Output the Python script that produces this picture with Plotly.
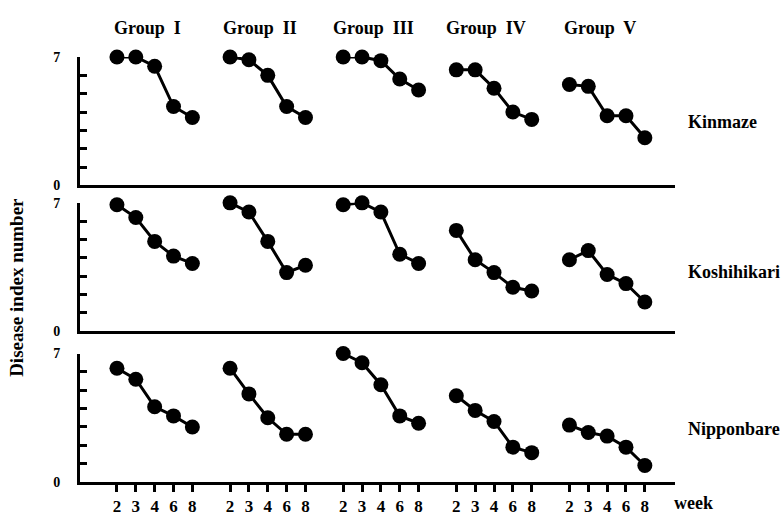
import plotly.graph_objects as go
from plotly.subplots import make_subplots

# ---- data ----
weeks = ["2", "3", "4", "6", "8"]
groups = ["Group  I", "Group  II", "Group  III", "Group  IV", "Group  V"]
varieties = ["Kinmaze", "Koshihikari", "Nipponbare"]

kinmaze = [
    [7.0, 7.0, 6.5, 4.3, 3.7],
    [7.0, 6.85, 6.0, 4.3, 3.7],
    [7.0, 7.0, 6.8, 5.8, 5.2],
    [6.3, 6.3, 5.3, 4.0, 3.6],
    [5.5, 5.4, 3.8, 3.8, 2.6],
]
koshihikari = [
    [6.9, 6.2, 4.9, 4.1, 3.7],
    [7.0, 6.5, 4.9, 3.2, 3.6],
    [6.9, 7.0, 6.5, 4.2, 3.7],
    [5.5, 3.9, 3.2, 2.4, 2.2],
    [3.9, 4.4, 3.1, 2.6, 1.6],
]
nipponbare = [
    [6.2, 5.6, 4.1, 3.6, 3.0],
    [6.2, 4.8, 3.5, 2.6, 2.6],
    [7.0, 6.5, 5.3, 3.6, 3.2],
    [4.7, 3.9, 3.3, 1.9, 1.6],
    [3.1, 2.7, 2.5, 1.9, 0.9],
]
y_ticks = [0, 1, 2, 3, 4, 5, 6, 7]
y_ticktext = ["0", "", "", "", "", "", "", "7"]

panels = [kinmaze, koshihikari, nipponbare]

# position of each week within a group: group g, week i -> g*6 + i
STEP = 6
def pos(g, i):
    return g * STEP + i

SERIF = "Liberation Serif"

fig = make_subplots(rows=3, cols=1, shared_xaxes=True, vertical_spacing=0.04)

for r, data in enumerate(panels):
    for g, vals in enumerate(data):
        fig.add_trace(
            go.Scatter(
                x=[pos(g, i) for i in range(len(weeks))],
                y=vals,
                mode="lines+markers",
                line=dict(color="black", width=3),
                marker=dict(color="black", size=15),
                cliponaxis=False,
                showlegend=False,
                hoverinfo="x+y",
            ),
            row=r + 1, col=1,
        )

tickvals = [pos(g, i) for g in range(len(groups)) for i in range(len(weeks))]
ticktext = [w for g in range(len(groups)) for w in weeks]

x_range = [-1.96, 29.6]
domains = [[0.6977, 1.0], [0.3545, 0.6568], [0.0, 0.3023]]

for r in range(3):
    fig.update_yaxes(
        row=r + 1, col=1,
        domain=domains[r],
        range=[0, 7],
        showgrid=False, zeroline=False,
        showline=True, linecolor="black", linewidth=3,
        ticks="inside", ticklen=7, tickwidth=3, tickcolor="black",
        tickvals=y_ticks, ticktext=y_ticktext,
        tickfont=dict(family=SERIF, size=14, color="black", weight="bold"),
        ticklabelstandoff=14,
    )
    last = (r == 2)
    fig.update_xaxes(
        row=r + 1, col=1,
        range=x_range,
        showgrid=False, zeroline=False,
        showline=True, linecolor="black", linewidth=3,
        ticks="outside" if last else "",
        ticklen=7, tickwidth=3, tickcolor="black",
        tickvals=tickvals, ticktext=ticktext if last else [""] * len(tickvals),
        showticklabels=last,
        tickfont=dict(family=SERIF, size=17, color="black", weight="bold"),
    )

annotations = []
# group titles
for g, name in enumerate(groups):
    annotations.append(dict(
        x=pos(g, 2) - 0.4, y=1.068, xref="x3", yref="paper",
        text="<b>" + name + "</b>", showarrow=False,
        font=dict(family=SERIF, size=18, color="black"),
        xanchor="center", yanchor="middle",
    ))
# variety labels
for name, yy in zip(varieties, [0.848, 0.493, 0.125]):
    annotations.append(dict(
        x=1.018, y=yy, xref="paper", yref="paper",
        text="<b>" + name + "</b>", showarrow=False,
        font=dict(family=SERIF, size=18, color="black"),
        xanchor="left", yanchor="middle",
    ))
# y-axis title
annotations.append(dict(
    x=-0.106, y=0.459, xref="paper", yref="paper",
    text="<b>Disease index number</b>", showarrow=False, textangle=-90,
    font=dict(family=SERIF, size=19, color="black"),
    xanchor="center", yanchor="middle",
))
# week label
annotations.append(dict(
    x=0.995, y=-0.05, xref="paper", yref="paper",
    text="<b>week</b>", showarrow=False,
    font=dict(family=SERIF, size=18, color="black"),
    xanchor="left", yanchor="middle",
))

fig.update_layout(
    width=781, height=528,
    margin=dict(l=80, r=106, t=57, b=31),
    paper_bgcolor="white", plot_bgcolor="white",
    annotations=annotations,
    showlegend=False,
)

fig.write_html("out.html")
